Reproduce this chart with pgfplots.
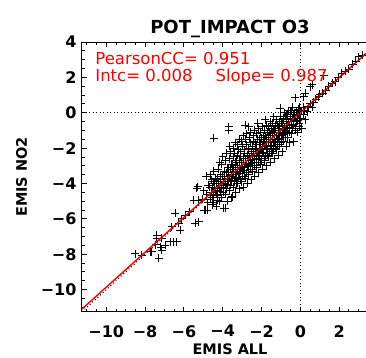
\documentclass[border=0pt]{standalone}
\usepackage{pgfplots}
\pgfplotsset{compat=1.18}
\usepackage{fontspec}
\setmainfont{DejaVu Sans}
\begin{document}
\begin{tikzpicture}[x=1pt,y=1pt]
\begin{axis}[
  at={(0,0)}, anchor=south west,
  scale only axis, width=296pt, height=269.7pt,
  xmin=-11.25, xmax=4, ymin=-11.25, ymax=4,
  clip mode=individual,
  axis line style={black, line width=1pt},
  xtick={-10,-8,-6,-4,-2,0,2},
  xticklabels={−10,−8,−6,−4,−2,0,2},
  ytick={-10,-8,-6,-4,-2,0,2,4},
  yticklabels={−10,−8,−6,−4,−2,0,2,4},
  minor xtick={-11,-10.5,...,4},
  minor ytick={-11,-10.5,...,4},
  tick align=inside,
  major tick length=5pt, minor tick length=3pt,
  tick style={black, line width=0.9pt},
  ticklabel style={font=\bfseries\fontsize{16}{16}\selectfont},
  xticklabel style={yshift=-10pt},
  yticklabel style={xshift=-2pt},
]
\addplot[only marks, mark=+, mark size=4pt, mark options={line width=1pt}, black] coordinates {
(-8.5,-7.96) (-8.16,-8.05) (-7.66,-7.87) (-7.3,-8.24) (-7.13,-7.77) (-7.39,-7.11) (-6.96,-7.49) (-6.7,-7.3) (-6.36,-7.3) (-6.53,-7.3) (-7.73,-7.87) (-7.45,-7.45) (-7.2,-7.6)
(-5.33,-4.28) (-4.73,-4.09) (-5.5,-4.94) (-5.24,-4.94) (-6.44,-5.69) (-6.1,-5.98) (-5.24,-6.17) (-5.41,-6.26) (-4.81,-5.5) (-6.27,-6.26) (-6.62,-6.45) (-7.39,-6.92) (-7.13,-7.11) (-3.52,-4.75) (-3.87,-5.41) (-5.28,-4.19) (-6.19,-6.64) (-5.7,-5.6) (-5.9,-5.8)
(-4.94,-5.5) (-5.05,-4.9) (-4.98,-4.4)
(-4.88,-5.5) (-4.76,-5.1) (-4.82,-4.6) (-4.74,-4.1) (-4.86,-3.6)
(-4.54,-5.2) (-4.65,-4.9) (-4.58,-4.5) (-4.68,-4.2) (-4.56,-3.8) (-4.62,-3.5)
(-4.33,-5.3) (-4.46,-4.8) (-4.39,-4.4) (-4.44,-4.0) (-4.35,-3.7) (-4.47,-3.3) (-4.47,-1.45)
(-4.15,-5.0) (-4.27,-4.7) (-4.18,-4.3) (-4.24,-3.9) (-4.13,-3.6) (-4.22,-3.2) (-4.16,-2.8)
(-3.94,-5.4) (-4.05,-4.8) (-3.98,-4.5) (-4.08,-4.2) (-3.96,-3.9) (-4.02,-3.6) (-3.93,-3.3) (-4.06,-2.9) (-3.99,-2.5)
(-3.74,-5.0) (-3.85,-4.6) (-3.78,-4.3) (-3.88,-4.0) (-3.76,-3.7) (-3.82,-3.4) (-3.73,-3.1) (-3.86,-2.7) (-3.79,-2.3) (-3.7,-1.0)
(-3.54,-4.8) (-3.65,-4.4) (-3.58,-4.1) (-3.68,-3.8) (-3.56,-3.5) (-3.62,-3.2) (-3.53,-2.9) (-3.66,-2.6) (-3.59,-2.2) (-3.64,-1.9) (-3.7,-0.8)
(-3.34,-4.5) (-3.45,-4.2) (-3.38,-3.9) (-3.48,-3.6) (-3.36,-3.4) (-3.42,-3.1) (-3.33,-2.8) (-3.46,-2.5) (-3.39,-2.3) (-3.44,-2.0) (-3.35,-1.7)
(-3.14,-4.3) (-3.25,-4.0) (-3.18,-3.7) (-3.28,-3.5) (-3.16,-3.2) (-3.22,-3.0) (-3.13,-2.7) (-3.26,-2.4) (-3.19,-2.1) (-3.24,-1.8) (-3.15,-1.5)
(-2.94,-4.2) (-3.05,-3.9) (-2.98,-3.6) (-3.08,-3.3) (-2.96,-3.1) (-3.02,-2.8) (-2.93,-2.5) (-3.06,-2.2) (-2.99,-1.9) (-3.04,-1.6) (-2.95,-1.3)
(-2.74,-4.0) (-2.85,-3.7) (-2.78,-3.4) (-2.88,-3.1) (-2.76,-2.9) (-2.82,-2.6) (-2.73,-2.4) (-2.86,-2.1) (-2.79,-1.8) (-2.84,-1.5) (-2.75,-1.2) (-2.84,-0.7)
(-2.54,-3.8) (-2.65,-3.5) (-2.58,-3.2) (-2.68,-3.0) (-2.56,-2.7) (-2.62,-2.5) (-2.53,-2.2) (-2.66,-2.0) (-2.59,-1.7) (-2.64,-1.4) (-2.55,-1.1) (-2.66,-0.79)
(-2.34,-3.6) (-2.45,-3.3) (-2.38,-3.0) (-2.48,-2.8) (-2.36,-2.5) (-2.42,-2.3) (-2.33,-2.1) (-2.46,-1.9) (-2.39,-1.6) (-2.44,-1.3) (-2.35,-1.0)
(-2.14,-3.4) (-2.25,-3.1) (-2.18,-2.8) (-2.28,-2.6) (-2.16,-2.4) (-2.22,-2.2) (-2.13,-2.0) (-2.26,-1.8) (-2.19,-1.5) (-2.24,-1.2) (-2.15,-0.9) (-2.2,-0.6)
(-1.94,-3.2) (-2.05,-2.9) (-1.98,-2.7) (-2.08,-2.5) (-1.96,-2.3) (-2.02,-2.1) (-1.93,-1.9) (-2.06,-1.7) (-1.99,-1.4) (-2.04,-1.1) (-1.95,-0.8)
(-1.74,-3.0) (-1.85,-2.7) (-1.78,-2.5) (-1.88,-2.3) (-1.76,-2.1) (-1.82,-1.9) (-1.73,-1.7) (-1.86,-1.5) (-1.79,-1.3) (-1.84,-1.0) (-1.75,-0.7) (-1.8,-0.4)
(-1.54,-2.8) (-1.65,-2.5) (-1.58,-2.3) (-1.68,-2.1) (-1.56,-1.9) (-1.62,-1.7) (-1.53,-1.5) (-1.66,-1.3) (-1.59,-1.1) (-1.64,-0.8) (-1.55,-0.5)
(-1.34,-2.6) (-1.45,-2.3) (-1.38,-2.1) (-1.48,-1.9) (-1.36,-1.7) (-1.42,-1.5) (-1.33,-1.3) (-1.46,-1.1) (-1.39,-0.9) (-1.44,-0.6) (-1.38,-0.23)
(-1.14,-2.4) (-1.25,-2.1) (-1.18,-1.9) (-1.28,-1.7) (-1.16,-1.5) (-1.22,-1.3) (-1.13,-1.1) (-1.26,-0.9) (-1.19,-0.7) (-1.24,-0.4)
(-0.94,-2.2) (-1.05,-1.9) (-0.98,-1.7) (-1.08,-1.5) (-0.96,-1.3) (-1.02,-1.1) (-0.93,-0.9) (-1.06,-0.7) (-0.99,-0.5) (-1.04,-0.2) (-1.03,0.25)
(-0.74,-1.9) (-0.85,-1.6) (-0.78,-1.4) (-0.88,-1.2) (-0.76,-1.0) (-0.82,-0.8) (-0.73,-0.6) (-0.86,-0.4) (-0.79,-0.2) (-0.84,0.0)
(-0.54,-1.7) (-0.65,-1.4) (-0.58,-1.1) (-0.68,-0.9) (-0.56,-0.7) (-0.62,-0.5) (-0.53,-0.3) (-0.66,-0.1) (-0.59,0.1)
(-0.35,-1.64) (-0.45,-1.2) (-0.38,-0.9) (-0.48,-0.7) (-0.36,-0.5) (-0.42,-0.3) (-0.33,-0.1) (-0.46,0.1) (-0.39,0.3)
(-0.14,-1.1) (-0.25,-0.8) (-0.18,-0.5) (-0.28,-0.3) (-0.16,-0.1) (-0.22,0.1) (-0.26,0.85)
(0.06,-0.9) (-0.05,-0.6) (0.02,-0.3) (-0.08,-0.1) (0.04,0.1) (-0.02,0.3) (0.08,-0.88)
(0.24,-0.4) (0.15,-0.1) (0.22,0.1) (0.18,0.3) (0.17,0.9) (0.26,1.1)
(0.4,0.35) (0.52,1.47) (0.6,1.57) (0.5,0.5) (0.7,0.6) (0.8,0.75) (0.94,0.9) (1.0,1.05) (1.15,1.1) (1.2,2.08) (1.3,1.25) (1.45,1.5) (1.63,1.66) (1.8,1.75) (1.95,2.0) (2.14,2.23) (2.3,2.35) (2.5,2.45) (2.7,2.75) (2.85,2.9) (3.0,3.17) (3.2,3.25) (0.35,0.05) (0.6,0.3)
(-4.47,-5.1) (-4.54,-4.8) (-4.45,-4.5) (-4.52,-4.2) (-4.49,-3.9)
(-4.27,-4.95) (-4.34,-4.6) (-4.25,-4.3) (-4.32,-4.0) (-4.29,-3.7)
(-4.07,-4.8) (-4.14,-4.45) (-4.05,-4.1) (-4.12,-3.8) (-4.09,-3.5)
(-3.87,-4.6) (-3.94,-4.25) (-3.85,-3.9) (-3.92,-3.6) (-3.89,-3.3)
(-3.67,-4.4) (-3.74,-4.05) (-3.65,-3.7) (-3.72,-3.4) (-3.69,-3.1)
(-3.47,-4.2) (-3.54,-3.85) (-3.45,-3.5) (-3.52,-3.2) (-3.49,-2.9)
(-3.27,-4.0) (-3.34,-3.65) (-3.25,-3.3) (-3.32,-3.0) (-3.29,-2.7)
(-3.07,-3.8) (-3.14,-3.45) (-3.05,-3.1) (-3.12,-2.8) (-3.09,-2.5)
(-2.87,-3.6) (-2.94,-3.25) (-2.85,-2.9) (-2.92,-2.6) (-2.89,-2.3)
(-2.67,-3.4) (-2.74,-3.05) (-2.65,-2.7) (-2.72,-2.4) (-2.69,-2.1)
(-2.47,-3.2) (-2.54,-2.85) (-2.45,-2.5) (-2.52,-2.2) (-2.49,-1.9)
(-2.27,-3.0) (-2.34,-2.65) (-2.25,-2.3) (-2.32,-2.0) (-2.29,-1.7)
(-2.07,-2.8) (-2.14,-2.45) (-2.05,-2.1) (-2.12,-1.8) (-2.09,-1.5)
(-1.87,-2.6) (-1.94,-2.25) (-1.85,-1.9) (-1.92,-1.6) (-1.89,-1.3)
(-1.67,-2.4) (-1.74,-2.05) (-1.65,-1.7) (-1.72,-1.4) (-1.69,-1.1)
(-1.47,-2.2) (-1.54,-1.85) (-1.45,-1.5) (-1.52,-1.2) (-1.49,-0.9)
(-1.27,-2.0) (-1.34,-1.65) (-1.25,-1.3) (-1.32,-1.0) (-1.29,-0.7)
(-1.07,-1.8) (-1.14,-1.45) (-1.05,-1.1) (-1.12,-0.8) (-1.09,-0.5)
(-0.87,-1.6) (-0.94,-1.25) (-0.85,-0.9) (-0.92,-0.6) (-0.89,-0.3)
(-0.67,-1.4) (-0.74,-1.05) (-0.65,-0.7) (-0.72,-0.4) (-0.69,-0.1)
(-0.47,-1.2) (-0.54,-0.85) (-0.45,-0.5) (-0.52,-0.2) (-0.49,0.1)
(-0.27,-1.0) (-0.34,-0.65) (-0.25,-0.3) (-0.32,0.0)
(-0.07,-0.8) (-0.14,-0.45) (-0.05,-0.1) (-0.12,0.2)
};
\addplot[red, line width=1.4pt] coordinates {(-11.25,-11.096) (4,3.956)};
\addplot[black, line width=1pt, dash pattern=on 1pt off 2.5pt] coordinates {(-11.25,-11.25) (4,4)};
\addplot[black, line width=1pt, dash pattern=on 1pt off 2.5pt] coordinates {(-11.25,0) (4,0)};
\addplot[black, line width=1pt, dash pattern=on 1pt off 2.5pt] coordinates {(0,-11.25) (0,4)};
\node[anchor=base west, red, inner sep=0pt, font=\fontsize{16.5}{16.5}\selectfont] at (axis cs:-10.57,2.70) {PearsonCC= 0.951};
\node[anchor=base west, red, inner sep=0pt, font=\fontsize{16.5}{16.5}\selectfont] at (axis cs:-10.57,1.75) {Intc= 0.008};
\node[anchor=base west, red, inner sep=0pt, font=\fontsize{16.5}{16.5}\selectfont] at (axis cs:-4.38,1.75) {Slope= 0.987};
\node[anchor=base, inner sep=0pt, font=\bfseries\fontsize{18}{18}\selectfont] at (rel axis cs:0.5,1) [yshift=9pt] {POT\_IMPACT O3};
\node[anchor=base, inner sep=0pt, font=\bfseries\fontsize{14.5}{14.5}\selectfont] at (rel axis cs:0.5,0) [yshift=-42.5pt] {EMIS ALL};
\node[anchor=base, inner sep=0pt, font=\bfseries\fontsize{14.5}{14.5}\selectfont, xshift=-55pt, rotate=90] at (rel axis cs:0,0.5) {EMIS NO2};
\end{axis}
\pgfresetboundingbox
\path (-82,-45.3) rectangle (284,311.7);
\end{tikzpicture}
\end{document}
